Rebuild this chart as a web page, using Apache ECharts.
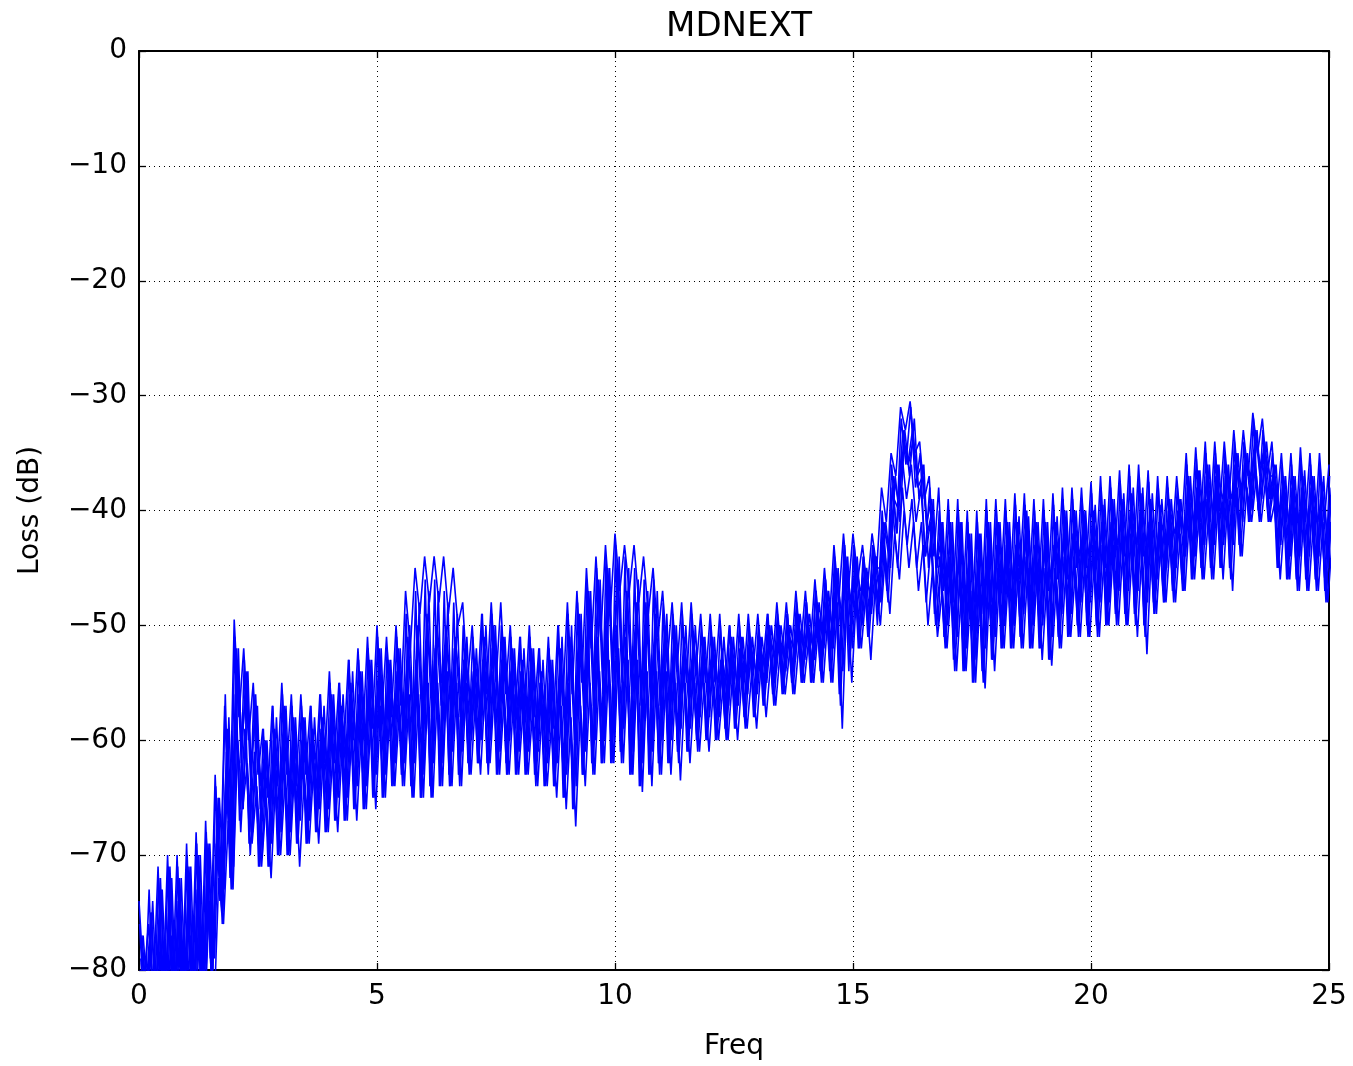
<!DOCTYPE html>
<html>
<head>
<meta charset="utf-8">
<script src="https://cdn.jsdelivr.net/npm/echarts@6/dist/echarts.min.js"></script>
<style>
html,body{margin:0;padding:0;background:#fff;}
#c{width:1353px;height:1066px;}
</style>
</head>
<body>
<div id="c"></div>
<script>
// Frequency sampling grid (start, step) and per-trace offsets
const FREQ_START = 0;
const FREQ_STEP = 0.1;
const TRACE_OFFSETS = [0, 0.05, 0.025, 0.075, 0.0125, 0.0375, 0.0625, 0.0875];

const X_TICKS = [0, 5, 10, 15, 20, 25];
const Y_TICKS = [0, -10, -20, -30, -40, -50, -60, -70, -80];

const trace1 = [
-74,-81,-76,-82,-71,-83,-70,-82,-70,-83,
-69,-83,-68,-82,-67,-79,-63,-74,-57,-69,
-49.5,-58,-52,-60,-55,-63,-59,-65,-57,-64,
-55,-63,-56,-64,-56,-63,-57,-64,-56,-62,
-54,-62,-55,-61,-53,-60,-52,-60,-51,-59,
-50,-58,-51,-58,-50,-57,-47,-52,-45,-49,
-44,-48,-44,-48,-44,-49,-45,-50,-48,-55,
-50,-57,-49,-56,-48,-55,-48,-56,-50,-58,
-51,-58,-50,-58,-52,-59,-51,-59,-50,-57,
-48,-56,-47,-55,-45,-52,-44,-51,-43,-49,
-42,-47,-43,-47,-43,-48,-44,-49,-45,-51,
-47,-53,-48,-54,-48,-55,-48,-54,-49,-55,
-49,-55,-49,-56,-50,-55,-49,-55,-49,-54,
-49,-54,-49,-54,-48,-53,-48,-53,-47,-52,
-47,-52,-46,-51,-45,-50,-43,-48,-42,-47,
-42,-46,-43,-47,-42,-45,-38,-41,-35,-37,
-31,-33,-30.5,-35,-34,-39,-37,-44,-38,-47,
-39,-48,-39,-49,-40,-50,-40,-49,-39,-48,
-39,-47,-39,-47,-38.5,-46,-38.5,-47,-39,-47,
-39,-47,-38.5,-46,-38,-46,-38,-45,-38,-45,
-37.5,-45,-37,-45,-37,-44,-36.5,-44,-36,-44,
-36,-44,-36.5,-45,-37,-44,-37,-43,-37,-42,
-35,-42,-34.5,-41,-34,-41,-34,-40,-34,-39,
-33,-38,-33,-37,-31.5,-35,-32,-37,-34,-40,
-35,-41,-35,-42,-34.5,-41,-35,-42,-35,-41,
-36
];

const trace2 = [
-78,-82,-75,-83,-72,-84,-71,-83,-72,-84,
-71,-84,-70,-83,-69,-80,-66,-76,-60,-72,
-52,-62,-54,-64,-56,-66,-60,-67,-59,-66,
-57,-66,-58,-66,-58,-65,-59,-65,-58,-64,
-56,-64,-57,-63,-55,-62,-54,-62,-53,-61,
-52,-61,-53,-60,-52,-60,-51,-60,-50,-59,
-49,-58,-50,-57,-50,-58,-51,-58,-52,-59,
-53,-59,-51,-58,-50,-59,-51,-58,-52,-59,
-53,-60,-52,-60,-54,-61,-53,-61,-52,-60,
-51,-60,-49,-58,-47,-57,-46,-56,-45,-55,
-45,-55,-47,-56,-48,-57,-48,-57,-49,-57,
-50,-58,-50,-58,-51,-57,-51,-58,-51,-57,
-51,-57,-52,-58,-51,-57,-51,-56,-51,-56,
-51,-56,-50,-55,-50,-55,-50,-54,-49,-54,
-49,-54,-48,-53,-47,-52,-45,-51,-44,-50,
-44,-49,-45,-49,-44,-47,-41,-44,-37,-39,
-33,-36,-33,-37,-36,-41,-39,-45,-41,-48,
-41,-50,-41,-51,-42,-51,-42,-50,-41,-50,
-41,-49,-41,-49,-41,-48,-40,-49,-41,-49,
-41,-49,-41,-48,-40,-48,-40,-47,-40,-47,
-40,-47,-39.5,-47,-39,-46,-39,-46,-38.5,-46,
-38.5,-46,-39,-47,-39.5,-46,-39,-45,-39,-44,
-37,-44,-36.5,-43,-36,-43,-36,-42,-36,-42,
-35,-40,-35,-39,-33,-37,-34,-39,-36,-42,
-37,-43,-37,-44,-37,-43,-37,-44,-37.5,-44,
-38
];

const trace3 = [
-80,-84,-78,-85,-76,-84,-75,-85,-74,-84,
-74,-85,-73,-84,-72,-81,-69,-73,-63,-71,
-56,-66,-59,-68,-61,-70,-62,-70,-60,-69,
-60,-69,-60,-68,-60,-68,-59,-67,-59,-67,
-58,-66,-57,-66,-56,-65,-56,-65,-55,-64,
-55,-64,-55,-63,-54,-63,-54,-64,-53,-65,
-52,-64,-52,-63,-52,-64,-52,-63,-53,-62,
-54,-62,-53,-62,-52,-62,-53,-63,-54,-62,
-54,-62,-54,-63,-55,-63,-55,-64,-55,-64,
-55,-65,-53,-63,-51,-62,-51,-62,-50,-61,
-50,-61,-51,-62,-51,-63,-52,-62,-52,-62,
-52,-61,-53,-61,-53,-60,-53,-60,-53,-59,
-53,-59,-53,-59,-52,-58,-52,-58,-51,-57,
-51,-56,-50,-56,-50,-55,-49,-55,-49,-54,
-48,-54,-47,-54,-46,-53,-45,-53,-43,-52,
-43,-51,-44,-50,-43,-48,-41,-46,-38,-42,
-35,-39,-36,-41,-38,-44,-41,-48,-44,-51,
-44,-52,-44,-53,-45,-54,-45,-53,-44,-52,
-43,-51,-43,-51,-43,-51,-42,-50,-43,-51,
-43,-51,-43,-51,-42,-50,-42,-50,-42,-50,
-41,-50,-41,-49,-41,-49,-40,-49,-40,-49,
-41,-50,-41,-49,-41,-48,-40,-47,-40,-47,
-38,-45,-38,-45,-37,-45,-37,-44,-37,-44,
-36,-42,-36,-41,-35,-40,-35,-41,-37,-44,
-38,-45,-38,-46,-38,-46,-38,-46,-39,-47,
-40
];

const trace4 = [
-82,-85,-80,-86,-78,-85,-77,-86,-77,-85,
-77,-86,-76,-85,-74,-84,-72,-76,-67,-73,
-60,-66,-62,-69,-64,-71,-65,-72,-63,-70,
-63,-70,-62,-71,-63,-69,-62,-69,-61,-68,
-61,-68,-60,-67,-59,-67,-59,-66,-58,-66,
-57,-65,-57,-64,-57,-64,-56,-65,-56,-65,
-55,-65,-55,-64,-54,-64,-55,-64,-55,-63,
-56,-63,-55,-62,-55,-63,-56,-63,-56,-63,
-57,-63,-57,-64,-57,-64,-58,-65,-57,-66,
-58,-67.5,-57,-64,-55,-63,-54,-62,-53,-62,
-52,-62,-53,-63,-53,-64.5,-54,-64,-54,-63,
-54,-63,-55,-63.5,-55,-62,-55,-61,-55,-61,
-55,-60,-55,-60,-54,-60,-54,-59,-54,-59,
-53,-58,-53,-57,-52,-56,-52,-56,-51,-55,
-51,-55,-50,-55,-49,-55,-48,-59,-47,-55,
-47,-52,-47,-53,-46,-50,-44,-49,-42,-46,
-40,-45,-41,-47,-43,-50,-45,-51,-47,-52,
-46,-54,-47,-54,-47,-55,-47,-55.5,-46,-54,
-46,-52,-45,-52,-45,-52,-45,-52,-45,-53,
-46,-53.5,-46,-52,-45,-51,-45,-51,-44,-51,
-44,-51,-44,-50,-43,-50,-43,-50,-43,-51,
-43,-52.5,-43,-49,-42,-48,-42,-48,-42,-47,
-40,-46,-40,-46,-40,-46,-39,-46,-39,-47,
-38,-44,-38,-41,-37,-41,-37,-41,-39,-46,
-40,-46,-40,-47,-40,-47,-41,-47,-41,-48,
-42
];

const trace5 = [
-76,-84,-73,-85,-72,-84,-71,-85,-71,-84,
-70,-85,-69,-84,-68,-80,-64,-74,-56,-72,
-51,-67,-53,-69,-56,-71,-59,-71,-57,-70,
-56,-70,-57,-69,-57,-69,-57,-68,-56,-68,
-55,-67,-55,-67,-53,-66,-53,-66,-52,-65,
-51,-65,-52,-64,-51,-63,-49,-64,-47,-65,
-46,-64,-46,-64,-47,-63,-48,-63,-50,-62,
-51,-62,-49,-62,-49,-63,-50,-62,-51,-63,
-51,-63,-51,-63,-52,-64,-52,-64,-50,-65,
-49,-66,-48,-63,-46,-62,-45,-62,-44,-62,
-43,-61,-44,-63,-45,-64,-46,-63,-46,-62,
-48,-62,-49,-61,-49,-61,-49,-60,-50,-60,
-50,-60,-50,-59,-50,-59,-50,-58,-50,-58,
-50,-57,-49,-56,-49,-56,-49,-55,-48,-55,
-48,-55,-47,-54,-46,-54,-44,-56,-43,-54,
-43,-52,-44,-51,-43,-50,-40,-47,-36,-42,
-32,-36,-31,-38,-35,-44,-38,-49,-40,-51,
-40,-53,-40,-54,-41,-55,-41,-54,-40,-53,
-40,-52,-40,-52,-39.5,-51,-39.5,-52,-40,-52,
-40,-53,-39.5,-51,-39,-51,-39,-50,-39,-50,
-38.5,-50,-38,-50,-38,-49,-37.5,-49,-37,-49,
-37,-50,-37.5,-48,-38,-47,-38,-47,-38,-46,
-36,-46,-35.5,-45,-35,-45,-35,-45,-35,-45,
-34,-43,-34,-41,-32,-40,-33,-40,-35,-45,
-36,-46,-36,-46,-35.5,-46,-36,-46,-36,-47,
-37
];

const trace6 = [
-79,-85,-77,-86,-75,-85,-74,-86,-74,-85,
-73,-86,-72,-85,-70,-82,-67,-75,-61,-73,
-57,-68,-60,-70,-62,-71,-63,-71,-62,-70,
-61,-70,-61,-69,-61,-69,-60,-68,-60,-68,
-59,-67,-58,-67,-58,-66,-57,-66,-56,-65,
-56,-65,-56,-64,-55,-64,-55,-65,-54,-65,
-53,-65,-53,-64,-53,-64,-53,-64,-54,-63,
-55,-62,-54,-63,-54,-63,-54,-63,-55,-63,
-55,-63,-55,-64,-56,-64,-56,-64,-56,-65,
-56,-66,-54,-63,-52,-63,-52,-62,-51,-62,
-51,-62,-52,-63,-52,-64,-53,-63,-53,-63,
-53,-62,-54,-62,-54,-61,-54,-61,-54,-60,
-54,-60,-54,-60,-53,-59,-53,-59,-52,-58,
-52,-57,-51,-57,-51,-56,-50,-56,-50,-55,
-50,-55,-49,-55,-48,-55,-47,-57,-45,-53,
-46,-52,-46,-51,-45,-49,-43,-48,-40,-45,
-38,-43,-39,-45,-41,-48,-43,-50,-45,-52,
-45,-54,-46,-54,-46,-55,-46,-55,-45,-53,
-45,-52,-44,-52,-44,-52,-44,-52,-44,-52,
-45,-53,-45,-52,-44,-51,-44,-51,-43,-51,
-43,-51,-43,-50,-42,-50,-42,-50,-42,-50,
-42,-51,-42,-49,-42,-48,-41,-48,-41,-47,
-39,-46,-39,-46,-39,-46,-38,-45,-38,-46,
-37,-44,-37,-41,-36,-41,-36,-41,-38,-45,
-39,-46,-39,-47,-39,-47,-40,-47,-40,-48,
-41
];

const trace7 = [
-77,-83,-75,-84,-73,-83,-72,-84,-73,-83,
-72,-84,-71,-83,-70,-79,-65,-75,-59,-70,
-53,-60,-55,-62,-57,-64,-61,-65,-60,-64,
-58,-64,-59,-64,-59,-63,-60,-63,-59,-62,
-57,-62,-58,-61,-56,-60,-55,-60,-54,-59,
-53,-59,-54,-58,-53,-58,-52,-58,-51,-57,
-50,-56,-50,-55,-51,-56,-52,-56,-53,-57,
-53,-57,-52,-56,-51,-57,-52,-56,-53,-57,
-54,-58,-53,-58,-55,-59,-54,-59,-53,-58,
-52,-58,-50,-56,-48,-55,-47,-54,-46,-53,
-46,-53,-48,-54,-49,-55,-49,-55,-50,-55,
-51,-56,-51,-56,-52,-55,-52,-56,-52,-55,
-52,-55,-53,-56,-52,-55,-52,-54,-52,-54,
-52,-54,-51,-53,-51,-53,-51,-52,-50,-52,
-50,-52,-49,-51,-48,-50,-46,-49,-45,-48,
-45,-47,-46,-47,-45,-45,-42,-43,-39,-40,
-34,-36,-34,-38,-37,-42,-40,-45,-42,-46,
-42,-47,-42,-48,-43,-48,-43,-47,-42,-47,
-42,-46,-42,-46,-42,-45,-41,-46,-42,-46,
-42,-46,-42,-45,-41,-45,-41,-44,-41,-44,
-41,-44,-40.5,-44,-40,-43,-40,-43,-39.5,-43,
-39.5,-43,-40,-44,-40.5,-43,-40,-42,-40,-42,
-38,-41,-37.5,-40,-37,-40,-37,-39,-37,-39,
-36,-38,-36,-37,-34,-36,-35,-37,-37,-40,
-38,-41,-38,-41,-38,-41,-38,-41,-38.5,-42,
-39
];

const trace8 = [
-77,-83,-74,-84,-73,-83,-72,-84,-72,-83,
-71,-84,-70,-83,-69,-79,-65,-73,-58,-71,
-52,-66,-54,-68,-57,-70,-60,-69,-58,-68,
-57,-68,-58,-67,-58,-67,-58,-66,-57,-66,
-56,-65,-56,-65,-54,-64,-54,-64,-53,-63,
-52,-63,-53,-62,-52,-62,-50,-62,-48,-63,
-47,-62,-47,-62,-48,-61,-49,-61,-51,-60,
-52,-60,-50,-60,-50,-61,-51,-60,-52,-61,
-52,-61,-52,-61,-53,-62,-53,-62,-51,-63,
-50,-64,-49,-61,-47,-60,-46,-60,-45,-60,
-44,-59,-45,-61,-46,-62,-47,-61,-47,-60,
-49,-60,-50,-59,-50,-59,-50,-58,-51,-58,
-51,-58,-51,-57,-51,-57,-51,-56,-51,-56,
-51,-55,-50,-54,-50,-54,-50,-53,-49,-53,
-49,-53,-48,-52,-47,-52,-45,-54,-44,-52,
-44,-50,-45,-49,-44,-48,-41,-45,-37,-41,
-33,-37,-32,-39,-36,-45,-39,-50,-41,-50,
-41,-51,-41,-52,-42,-53,-42,-52,-41,-51,
-41,-50,-41,-50,-40.5,-49,-40.5,-50,-41,-50,
-41,-51,-40.5,-49,-40,-49,-40,-48,-40,-48,
-39.5,-48,-39,-48,-39,-47,-38.5,-47,-38,-47,
-38,-48,-38.5,-46,-39,-45,-39,-45,-39,-44,
-37,-44,-36.5,-43,-36,-43,-36,-43,-36,-43,
-35,-41,-35,-40,-33,-39,-34,-39,-36,-43,
-37,-44,-37,-44,-36.5,-44,-37,-44,-37,-45,
-38
];

const TRACES = [trace1, trace2, trace3, trace4, trace5, trace6, trace7, trace8];

const FONT = 'DejaVu Sans';
const fmtMinus = v => String(v).replace('-', '\u2212');

const series = TRACES.map((vals, k) => ({
  type: 'line',
  data: vals.map((v, i) => [FREQ_START + i * FREQ_STEP + TRACE_OFFSETS[k], v]),
  showSymbol: false,
  symbol: 'none',
  clip: true,
  lineStyle: { color: '#0000ff', width: 1.6 },
  itemStyle: { color: '#0000ff' },
  animation: false
}));

const chart = echarts.init(document.getElementById('c'), null, { renderer: 'canvas' });
const axisCommon = {
  axisLine: { show: true, onZero: false, lineStyle: { color: '#000', width: 2 } },
  axisTick: { show: true, inside: true, length: 7, lineStyle: { color: '#000', width: 1.3 } }
};
chart.setOption({
  animation: false,
  backgroundColor: '#fff',
  title: {
    text: 'MDNEXT',
    left: 734,
    textAlign: 'center',
    top: 5,
    textStyle: { fontFamily: FONT, fontSize: 34, fontWeight: 'normal', color: '#000' }
  },
  grid: { left: 139, right: 24, top: 51, bottom: 94, show: false },
  xAxis: [{
    type: 'value', min: 0, max: 25, interval: 5, position: 'bottom',
    name: 'Freq', nameLocation: 'middle', nameGap: 63,
    nameTextStyle: { fontFamily: FONT, fontSize: 28, color: '#000' },
    ...axisCommon,
    axisLabel: { fontFamily: FONT, fontSize: 28, color: '#000', margin: 13, formatter: v => X_TICKS.includes(v) ? fmtMinus(v) : '' },
    splitLine: { show: true, lineStyle: { color: '#000', type: [1, 4], width: 1 } }
  }, {
    type: 'value', min: 0, max: 25, interval: 5, position: 'top',
    ...axisCommon, axisLabel: { show: false }, splitLine: { show: false }
  }],
  yAxis: [{
    type: 'value', min: -80, max: 0, interval: 10, position: 'left',
    name: 'Loss (dB)', nameLocation: 'middle', nameGap: 94,
    nameTextStyle: { fontFamily: FONT, fontSize: 28, color: '#000' },
    ...axisCommon,
    axisLabel: { fontFamily: FONT, fontSize: 28, color: '#000', margin: 12, formatter: v => Y_TICKS.includes(v) ? fmtMinus(v) : '' },
    splitLine: { show: true, lineStyle: { color: '#000', type: [1, 4], width: 1 } }
  }, {
    type: 'value', min: -80, max: 0, interval: 10, position: 'right',
    ...axisCommon, axisLabel: { show: false }, splitLine: { show: false }
  }],
  series: series
});
</script>
</body>
</html>
